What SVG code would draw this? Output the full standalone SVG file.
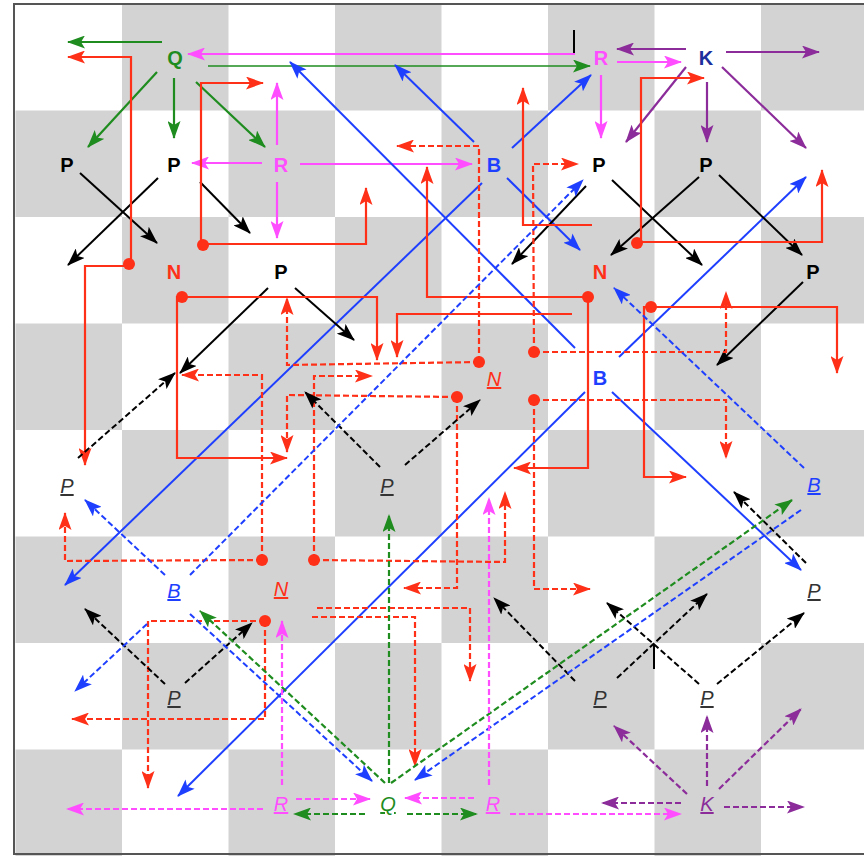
<svg xmlns="http://www.w3.org/2000/svg" width="864" height="856" viewBox="0 0 864 856">
<style>
.pc{font-family:"Liberation Sans",Arial,sans-serif;font-weight:bold;font-size:20px;text-anchor:middle}
.it{font-family:"Liberation Sans",Arial,sans-serif;font-style:italic;font-size:20px;text-anchor:middle;text-decoration:underline}
.red{stroke:#ff3018;fill:none;stroke-width:2.2}
.grn{stroke:#1e8c1e;fill:none;stroke-width:2.2}
.pnk{stroke:#ff4dff;fill:none;stroke-width:2.2}
.blu{stroke:#1f3fff;fill:none;stroke-width:2}
.blk{stroke:#000;fill:none;stroke-width:2}
.pur{stroke:#8b2c9a;fill:none;stroke-width:2.2}
.d{stroke-dasharray:6 3}
.ar{marker-end:url(#ah-red)}
.ag{marker-end:url(#ah-grn)}
.ap{marker-end:url(#ah-pnk)}
.ab{marker-end:url(#ah-blu)}
.ak{marker-end:url(#ah-blk)}
.au{marker-end:url(#ah-pur)}
.dot{fill:#ff3018}
</style>
<defs>
<marker id="ah-red" markerWidth="18" markerHeight="13" refX="17" refY="6.5" orient="auto" markerUnits="userSpaceOnUse"><path d="M0,0 L18,6.5 L0,13 L4,6.5 Z" fill="#ff3018"/></marker>
<marker id="ah-grn" markerWidth="18" markerHeight="13" refX="17" refY="6.5" orient="auto" markerUnits="userSpaceOnUse"><path d="M0,0 L18,6.5 L0,13 L4,6.5 Z" fill="#1e8c1e"/></marker>
<marker id="ah-pnk" markerWidth="18" markerHeight="13" refX="17" refY="6.5" orient="auto" markerUnits="userSpaceOnUse"><path d="M0,0 L18,6.5 L0,13 L4,6.5 Z" fill="#ff4dff"/></marker>
<marker id="ah-blu" markerWidth="18" markerHeight="13" refX="17" refY="6.5" orient="auto" markerUnits="userSpaceOnUse"><path d="M0,0 L18,6.5 L0,13 L4,6.5 Z" fill="#1f3fff"/></marker>
<marker id="ah-blk" markerWidth="18" markerHeight="13" refX="17" refY="6.5" orient="auto" markerUnits="userSpaceOnUse"><path d="M0,0 L18,6.5 L0,13 L4,6.5 Z" fill="#000"/></marker>
<marker id="ah-pur" markerWidth="18" markerHeight="13" refX="17" refY="6.5" orient="auto" markerUnits="userSpaceOnUse"><path d="M0,0 L18,6.5 L0,13 L4,6.5 Z" fill="#8b2c9a"/></marker>
</defs>
<rect x="0" y="0" width="864" height="856" fill="#fff"/>
<g id="board" fill="#d3d3d3">
<rect x="122" y="4" width="106.5" height="106.5"/><rect x="335" y="4" width="106.5" height="106.5"/><rect x="548" y="4" width="106.5" height="106.5"/><rect x="761" y="4" width="106.5" height="106.5"/>
<rect x="15.5" y="110.5" width="106.5" height="106.5"/><rect x="228.5" y="110.5" width="106.5" height="106.5"/><rect x="441.5" y="110.5" width="106.5" height="106.5"/><rect x="654.5" y="110.5" width="106.5" height="106.5"/>
<rect x="122" y="217" width="106.5" height="106.5"/><rect x="335" y="217" width="106.5" height="106.5"/><rect x="548" y="217" width="106.5" height="106.5"/><rect x="761" y="217" width="106.5" height="106.5"/>
<rect x="15.5" y="323.5" width="106.5" height="106.5"/><rect x="228.5" y="323.5" width="106.5" height="106.5"/><rect x="441.5" y="323.5" width="106.5" height="106.5"/><rect x="654.5" y="323.5" width="106.5" height="106.5"/>
<rect x="122" y="430" width="106.5" height="106.5"/><rect x="335" y="430" width="106.5" height="106.5"/><rect x="548" y="430" width="106.5" height="106.5"/><rect x="761" y="430" width="106.5" height="106.5"/>
<rect x="15.5" y="536.5" width="106.5" height="106.5"/><rect x="228.5" y="536.5" width="106.5" height="106.5"/><rect x="441.5" y="536.5" width="106.5" height="106.5"/><rect x="654.5" y="536.5" width="106.5" height="106.5"/>
<rect x="122" y="643" width="106.5" height="106.5"/><rect x="335" y="643" width="106.5" height="106.5"/><rect x="548" y="643" width="106.5" height="106.5"/><rect x="761" y="643" width="106.5" height="106.5"/>
<rect x="15.5" y="749.5" width="106.5" height="106.5"/><rect x="228.5" y="749.5" width="106.5" height="106.5"/><rect x="441.5" y="749.5" width="106.5" height="106.5"/><rect x="654.5" y="749.5" width="106.5" height="106.5"/>
</g>
<rect x="14" y="4" width="870" height="850" fill="none" stroke="#555" stroke-width="2"/>

<g id="connectors">
<!-- green solid -->
<path class="grn ag" d="M162,42 L68,42"/>
<path class="grn ag" d="M157,72 L88,147"/>
<path class="grn ag" d="M174,78 L174,138"/>
<path class="grn ag" d="M196,82 L265,147"/>
<path class="grn ag" d="M208,66 L590,66" stroke-opacity="0.75" stroke-width="2.5"/>
<!-- pink solid -->
<path class="pnk ap" d="M575,54 L188,54"/>
<path class="pnk ap" d="M262,163 L192,163"/>
<path class="pnk ap" d="M277,145 L277,83"/>
<path class="pnk ap" d="M277,182 L277,238"/>
<path class="pnk ap" d="M300,164 L472,164"/>
<path class="pnk ap" d="M617,62 L681,62"/>
<path class="pnk ap" d="M601,75 L601,138"/>
<!-- purple solid -->
<path class="pur au" d="M686,49 L617,49"/>
<path class="pur au" d="M726,52 L819,52"/>
<path class="pur au" d="M686,67 L626,142"/>
<path class="pur au" d="M707,82 L707,142"/>
<path class="pur au" d="M722,67 L806,148"/>
<!-- blue solid -->
<path class="blu ab" d="M575,348 L290,62"/>
<path class="blu ab" d="M474,142 L395,65"/>
<path class="blu ab" d="M512,148 L591,75"/>
<path class="blu ab" d="M507,178 L580,250"/>
<path class="blu ab" d="M482,183 L65,585"/>
<path class="blu ab" d="M619,357 L806,177" stroke-width="3"/>
<path class="blu ab" d="M612,392 L801,570"/>
<path class="blu ab" d="M585,392 L178,796"/>
<!-- black solid -->
<path class="blk ak" d="M80,173 L157,243"/>
<path class="blk ak" d="M158,178 L68,265"/>
<path class="blk ak" d="M200,182 L250,233" stroke-width="3"/>
<path class="blk ak" d="M268,288 L180,373"/>
<path class="blk ak" d="M295,288 L354,340"/>
<path class="blk ak" d="M586,186 L512,264"/>
<path class="blk ak" d="M612,180 L702,265"/>
<path class="blk ak" d="M699,177 L611,255"/>
<path class="blk ak" d="M719,175 L802,255"/>
<path class="blk ak" d="M803,282 L717,365"/>
<path class="blk" d="M574,30 L574,53" stroke-width="1.5"/>
<path class="blk" d="M654,644 L654,669" stroke-width="1.5"/>
<!-- red solid -->
<path class="red ar" d="M131,264 L131,57 L68,57"/>
<path class="red ar" d="M129,266 L85,266 L85,465"/>
<path class="red ar" d="M201,245 L201,83 L263,83"/>
<path class="red ar" d="M203,244 L366,244 L366,188"/>
<path class="red ar" d="M182,297 L377,297 L377,360"/>
<path class="red ar" d="M182,297 L177,297 L177,458 L287,458"/>
<path class="red ar" d="M588,297 L427,297 L427,167"/>
<path class="red ar" d="M588,297 L588,468 L514,468"/>
<path class="red ar" d="M592,225 L523,225 L523,88"/>
<path class="red ar" d="M572,314 L397,314 L397,357"/>
<path class="red ar" d="M638,243 L641,243 L641,78 L704,78"/>
<path class="red ar" d="M641,242 L822,242 L822,170"/>
<path class="red ar" d="M651,307 L837,307 L837,373"/>
<path class="red ar" d="M651,307 L644,307 L644,477 L686,477"/>
<!-- red dashed -->
<path class="red d ar" d="M479,362 L479,146 L397,146"/>
<path class="red d ar" d="M479,362 L287,365 L287,298"/>
<path class="red d ar" d="M534,352 L533,164 L578,164"/>
<path class="red d ar" d="M534,352 L726,352 L726,292"/>
<path class="red d ar" d="M534,400 L726,400 L726,458"/>
<path class="red d ar" d="M534,400 L534,589 L590,589"/>
<path class="red d ar" d="M457,397 L287,395 L287,452"/>
<path class="red d ar" d="M457,397 L457,588 L404,588"/>
<path class="red d ar" d="M262,560 L262,375 L182,375"/>
<path class="red d ar" d="M262,560 L65,561 L65,513"/>
<path class="red d ar" d="M314,560 L314,376 L372,376"/>
<path class="red d ar" d="M314,560 L505,562 L505,492"/>
<path class="red d ar" d="M265,621 L148,621 L148,788"/>
<path class="red d ar" d="M265,621 L265,719 L72,719"/>
<path class="red d ar" d="M317,608 L470,608 L470,681"/>
<path class="red d ar" d="M312,617 L415,617 L415,766"/>
<!-- black dashed -->
<path class="blk d ak" d="M78,458 L175,373"/>
<path class="blk d ak" d="M380,467 L305,392"/>
<path class="blk d ak" d="M405,465 L480,400"/>
<path class="blk d ak" d="M165,684 L85,609"/>
<path class="blk d ak" d="M185,683 L252,623"/>
<path class="blk d ak" d="M806,563 L734,492"/>
<path class="blk d ak" d="M575,681 L494,598"/>
<path class="blk d ak" d="M617,678 L707,594"/>
<path class="blk d ak" d="M699,684 L607,603"/>
<path class="blk d ak" d="M717,684 L804,613"/>
<!-- blue dashed -->
<path class="blu d ab" d="M190,575 L583,180"/>
<path class="blu d ab" d="M165,575 L85,500"/>
<path class="blu d ab" d="M147,624 L75,691"/>
<path class="blu d ab" d="M190,614 L372,781"/>
<path class="blu d ab" d="M804,468 L614,288"/>
<path class="blu d ab" d="M801,510 L415,780"/>
<!-- green dashed -->
<path class="grn d ag" d="M385,783 L200,611"/>
<path class="grn d ag" d="M389,783 L389,515"/>
<path class="grn d ag" d="M391,783 L792,500"/>
<path class="grn d ag" d="M365,814 L294,814"/>
<path class="grn d ag" d="M407,814 L477,814"/>
<!-- pink dashed -->
<path class="pnk d ap" d="M282,785 L282,621"/>
<path class="pnk d ap" d="M263,809 L67,809"/>
<path class="pnk d ap" d="M296,799 L370,799"/>
<path class="pnk d ap" d="M474,798 L405,798"/>
<path class="pnk d ap" d="M489,785 L489,498"/>
<path class="pnk d ap" d="M510,814 L681,814"/>
<!-- purple dashed -->
<path class="pur d au" d="M687,794 L614,726"/>
<path class="pur d au" d="M707,786 L707,716"/>
<path class="pur d au" d="M719,789 L801,709"/>
<path class="pur d au" d="M681,803 L602,803"/>
<path class="pur d au" d="M724,807 L804,807"/>
<!-- knight origin dots -->
<circle class="dot" cx="129" cy="264" r="6"/>
<circle class="dot" cx="203" cy="245" r="6"/>
<circle class="dot" cx="182" cy="297" r="6"/>
<circle class="dot" cx="588" cy="297" r="6"/>
<circle class="dot" cx="637" cy="243" r="6"/>
<circle class="dot" cx="651" cy="307" r="6"/>
<circle class="dot" cx="479" cy="362" r="6"/>
<circle class="dot" cx="534" cy="352" r="6"/>
<circle class="dot" cx="534" cy="400" r="6"/>
<circle class="dot" cx="457" cy="397" r="6"/>
<circle class="dot" cx="262" cy="560" r="6"/>
<circle class="dot" cx="314" cy="560" r="6"/>
<circle class="dot" cx="265" cy="621" r="6"/>
</g>

<g id="q1"><text class="pc" x="175" y="65" fill="#1e8c1e">Q</text></g>
<g id="r1"><text class="pc" x="601" y="65" fill="#ff4dff">R</text></g>
<g id="k1"><text class="pc" x="706" y="65" fill="#1c2f9c">K</text></g>
<g id="p1"><text class="pc" x="67" y="172">P</text></g>
<g id="p2"><text class="pc" x="174" y="172">P</text></g>
<g id="r2"><text class="pc" x="281" y="172" fill="#ff4dff">R</text></g>
<g id="b1"><text class="pc" x="494" y="172" fill="#1f3fff">B</text></g>
<g id="p3"><text class="pc" x="599" y="172">P</text></g>
<g id="p4"><text class="pc" x="706" y="172">P</text></g>
<g id="n1"><text class="pc" x="174" y="279" fill="#ff3018">N</text></g>
<g id="p5"><text class="pc" x="281" y="279">P</text></g>
<g id="n2"><text class="pc" x="600" y="279" fill="#ff3018">N</text></g>
<g id="p6"><text class="pc" x="813" y="279">P</text></g>
<g id="b2"><text class="pc" x="600" y="385" fill="#1f3fff">B</text></g>
<g id="n3"><text class="it" x="494" y="386" fill="#ff3018">N</text></g>
<g id="p7"><text class="it" x="67" y="493" fill="#333">P</text></g>
<g id="p8"><text class="it" x="387" y="493" fill="#333">P</text></g>
<g id="b3"><text class="it" x="814" y="492" fill="#1f3fff">B</text></g>
<g id="b4"><text class="it" x="174" y="598" fill="#1f3fff">B</text></g>
<g id="n4"><text class="it" x="281" y="596" fill="#ff3018">N</text></g>
<g id="p9"><text class="it" x="814" y="598" fill="#333">P</text></g>
<g id="p10"><text class="it" x="174" y="705" fill="#333">P</text></g>
<g id="p11"><text class="it" x="600" y="705" fill="#333">P</text></g>
<g id="p12"><text class="it" x="707" y="705" fill="#333">P</text></g>
<g id="r3"><text class="it" x="281" y="811" fill="#ff4dff">R</text></g>
<g id="q2"><text class="it" x="388" y="811" fill="#1e8c1e">Q</text></g>
<g id="r4"><text class="it" x="493" y="811" fill="#ff4dff">R</text></g>
<g id="k2"><text class="it" x="707" y="811" fill="#8b2c9a">K</text></g>
</svg>
